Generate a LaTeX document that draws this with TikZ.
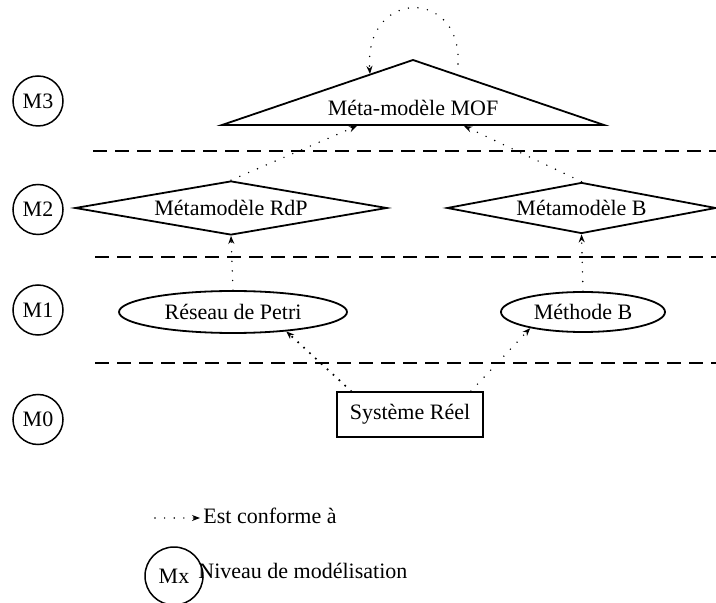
\documentclass[tikz,border=0pt]{standalone}
\usepackage{fontspec}
\setmainfont{Liberation Serif}
\usetikzlibrary{positioning,shapes.geometric,arrows.meta}

\begin{document}
\begin{tikzpicture}[x=0.5pt,y=-0.5pt,
    every node/.style={font=\fontsize{11}{13}\selectfont},
    niveau/.style={draw,circle,line width=0.75pt,minimum size=25pt,inner sep=0pt},
    losange/.style={draw,diamond,line width=0.9pt,inner sep=0pt},
    modele/.style={draw,ellipse,line width=0.9pt,inner sep=0pt},
    systeme/.style={draw,rectangle,line width=0.9pt,inner sep=0pt},
    conforme/.style={line width=0.8pt,line cap=round,dash pattern=on 0pt off 4.8pt,-{Stealth[length=4pt,width=3pt]}},
    dense/.style={line width=1.2pt,dash pattern=on 0pt off 4pt},
    separateur/.style={line width=0.9pt,dash pattern=on 7pt off 4pt}]
    \useasboundingbox (0,0) rectangle (716,603);
    % niveaux
    \node[niveau] (m3) at (38,101) {M3};
    \node[niveau, below=28.5pt of m3] (m2) {M2};
    \node[niveau, below=24.5pt of m2] (m1) {M1};
    \node[niveau, below=29pt of m1] (m0) {M0};
    \draw[separateur] (93,151) -- (716,151);
    \draw[separateur] (95,257) -- (716,257);
    \draw[separateur] (95,363) -- (716,363);
    % M3
    \node[anchor=base] (mof) at (413,116) {Méta-modèle MOF};
    \coordinate (mofL) at (222,125);
    \coordinate (mofTop) at (413,60);
    \coordinate (mofR) at (604,125);
    \draw[line width=0.9pt] (mofL) -- (mofTop) -- (mofR) -- cycle;
    \coordinate (mofInL) at (357,126);
    \coordinate (mofInR) at (464,126);
    \coordinate (loopS) at (458,64);
    \coordinate (loopE) at (370,74);
    % M2
    \node[losange, aspect=5.8, minimum width=156pt, minimum height=27pt] (rdp) at (231,208) {Métamodèle RdP};
    \node[losange, aspect=5.3, minimum width=134.5pt, minimum height=25.5pt] (bmm) at (581.5,208) {Métamodèle B};
    % M1
    \node[modele, minimum width=114pt, minimum height=21pt] (net) at (233,312) {Réseau de Petri};
    \node[modele, minimum width=82pt, minimum height=20pt] (methB) at (583,312) {Méthode B};
    % M0
    \node[systeme, minimum width=73pt, minimum height=22.5pt] (sys) at (410,414.5) {Système Réel};
    % conformite
    \draw[conforme] (loopS) .. controls (462,-12) and (364,-12) .. (loopE);
    \draw[conforme] (rdp.north) -- (mofInL);
    \draw[conforme] (bmm.north) -- (mofInR);
    \draw[conforme] (net.north) -- (rdp.south);
    \draw[conforme] (methB.north) -- (bmm.south);
    \draw[conforme, dense] ([xshift=7.5pt]sys.north west) -- (net.-20);
    \draw[conforme] ([xshift=-6.5pt]sys.north east) -- (methB.-163);
    % legende
    \coordinate (legA) at (155,518);
    \coordinate (legB) at (200,518);
    \draw[conforme] (legA) -- (legB);
    \node[anchor=base west, inner sep=0pt] (legconf) at (203,523) {Est conforme à};
    \node[niveau, minimum size=29pt] (mx) at (174,576) {Mx};
    \node[anchor=base west, inner sep=0pt] (legniv) at (198,578) {Niveau de modélisation};
\end{tikzpicture}
\end{document}
